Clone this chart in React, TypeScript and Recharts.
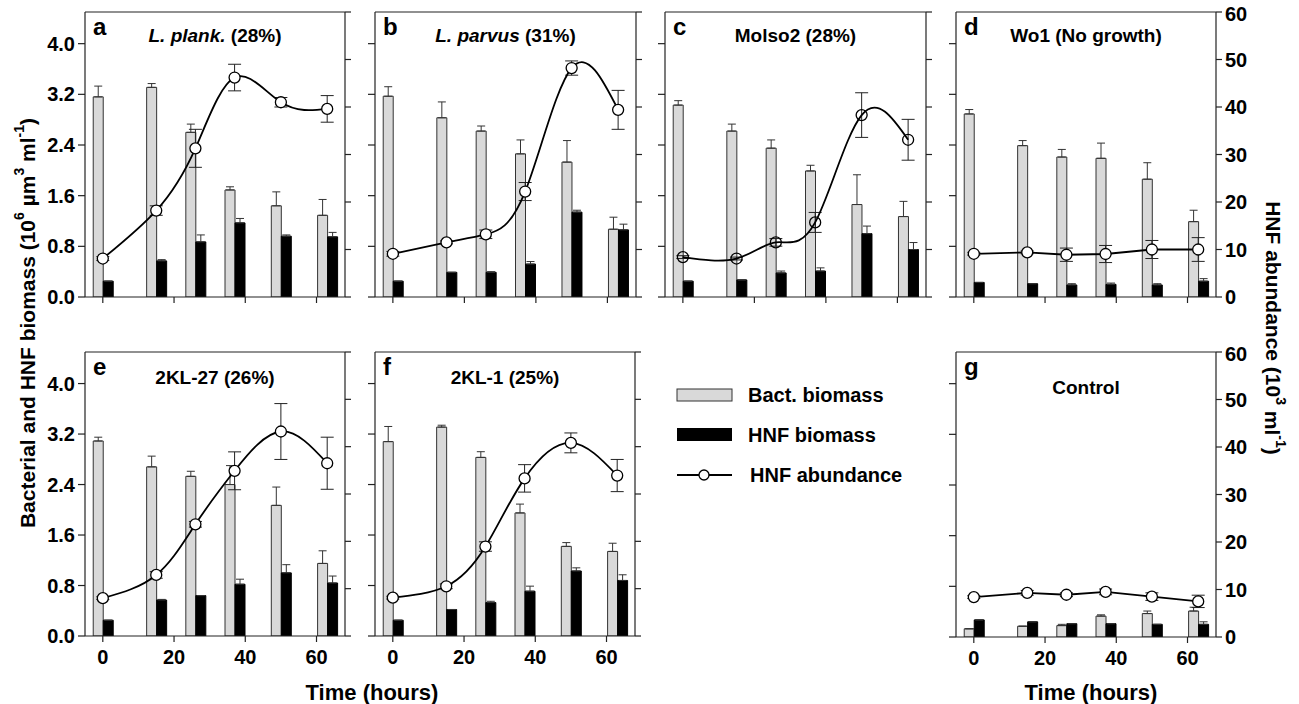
import React from 'react';
import { ComposedChart, Bar, Line, XAxis, YAxis, ErrorBar, ReferenceLine } from 'recharts';

const times = [0, 15, 26, 37, 50, 63];
const xTicks = [0, 20, 40, 60];
const leftTicks = [0, 0.8, 1.6, 2.4, 3.2, 4.0];
const rightTicks = [0, 10, 20, 30, 40, 50, 60];

// a  L. plank.
const bactA = [3.16, 3.31, 2.60, 1.69, 1.44, 1.29];
const bactErrA = [0.17, 0.06, 0.13, 0.05, 0.22, 0.25];
const hnfA = [0.25, 0.57, 0.87, 1.17, 0.96, 0.95];
const hnfErrA = [0, 0.02, 0.11, 0.07, 0.02, 0.07];
const abundA = [8.1, 18.2, 31.3, 46.2, 41.0, 39.6];
const abundErrA = [0.4, 1.0, 4.0, 2.8, 1.0, 2.8];

// b  L. parvus
const bactB = [3.17, 2.83, 2.62, 2.26, 2.13, 1.07];
const bactErrB = [0.15, 0.25, 0.08, 0.22, 0.34, 0.19];
const hnfB = [0.25, 0.39, 0.39, 0.52, 1.34, 1.06];
const hnfErrB = [0, 0, 0.01, 0.04, 0.03, 0.09];
const abundB = [9.1, 11.5, 13.2, 22.2, 48.2, 39.4];
const abundErrB = [0.5, 0.3, 0.9, 1.9, 1.5, 4.1];

// c  Molso2
const bactC = [3.03, 2.62, 2.35, 1.99, 1.46, 1.27];
const bactErrC = [0.07, 0.11, 0.13, 0.09, 0.47, 0.24];
const hnfC = [0.25, 0.27, 0.38, 0.41, 1.0, 0.75];
const hnfErrC = [0, 0, 0.03, 0.05, 0.12, 0.11];
const abundC = [8.4, 8.1, 11.5, 15.7, 38.3, 33.1];
const abundErrC = [0.3, 0.3, 0.8, 2.1, 4.7, 4.3];

// d  Wo1
const bactD = [2.89, 2.39, 2.21, 2.19, 1.86, 1.19];
const bactErrD = [0.07, 0.08, 0.12, 0.24, 0.26, 0.18];
const hnfD = [0.23, 0.21, 0.19, 0.2, 0.19, 0.25];
const hnfErrD = [0, 0, 0.02, 0.02, 0.02, 0.04];
const abundD = [9.1, 9.4, 8.9, 9.05, 10.0, 10.0];
const abundErrD = [0.3, 0.3, 1.4, 1.8, 1.9, 2.5];

// e  2KL-27
const bactE = [3.09, 2.68, 2.53, 2.40, 2.07, 1.15];
const bactErrE = [0.06, 0.17, 0.08, 0.30, 0.29, 0.20];
const hnfE = [0.25, 0.57, 0.64, 0.82, 1.0, 0.84];
const hnfErrE = [0, 0.01, 0, 0.08, 0.13, 0.11];
const abundE = [8.0, 12.9, 23.6, 34.9, 43.2, 36.5];
const abundErrE = [0.3, 0.7, 0.6, 4.0, 5.9, 5.5];

// f  2KL-1
const bactF = [3.08, 3.31, 2.83, 1.95, 1.42, 1.34];
const bactErrF = [0.24, 0.03, 0.09, 0.14, 0.06, 0.13];
const hnfF = [0.25, 0.42, 0.53, 0.71, 1.03, 0.88];
const hnfErrF = [0, 0, 0.02, 0.08, 0.05, 0.09];
const abundF = [8.1, 10.5, 18.9, 33.3, 40.8, 33.9];
const abundErrF = [0.3, 0.5, 1.0, 2.9, 2.1, 3.4];

// g  Control
const bactG = [0.13, 0.17, 0.18, 0.33, 0.37, 0.41];
const bactErrG = [0, 0, 0.02, 0.02, 0.04, 0.06];
const hnfG = [0.27, 0.24, 0.21, 0.21, 0.2, 0.2];
const hnfErrG = [0, 0, 0, 0, 0, 0.04];
const abundG = [8.4, 9.3, 8.9, 9.5, 8.5, 7.5];
const abundErrG = [0.3, 0.5, 0.4, 0.6, 0.8, 1.3];

const FONT = '"Liberation Sans", Arial, Helvetica, sans-serif';
const AX = '#222';

type PanelDef = {
  letter: string;
  title: React.ReactNode;
  x0: number; x1: number; y0: number; y1: number;
  bact: number[]; bactErr: number[]; hnf: number[]; hnfErr: number[];
  abund: number[]; abundErr: number[];
  curve: 'natural' | 'linear';
  dotFill: string;
  showLeft: boolean; showRight: boolean; showX: boolean;
  titleY: number;
};

const panels: PanelDef[] = [
  { letter: 'a', title: <><tspan fontStyle="italic">L. plank.</tspan> (28%)</>, x0: 85, x1: 345, y0: 12, y1: 297,
    bact: bactA, bactErr: bactErrA, hnf: hnfA, hnfErr: hnfErrA, abund: abundA, abundErr: abundErrA,
    curve: 'natural', dotFill: '#fff', showLeft: true, showRight: false, showX: false, titleY: 35 },
  { letter: 'b', title: <><tspan fontStyle="italic">L. parvus</tspan> (31%)</>, x0: 375, x1: 636, y0: 12, y1: 297,
    bact: bactB, bactErr: bactErrB, hnf: hnfB, hnfErr: hnfErrB, abund: abundB, abundErr: abundErrB,
    curve: 'natural', dotFill: '#fff', showLeft: false, showRight: false, showX: false, titleY: 35 },
  { letter: 'c', title: 'Molso2 (28%)', x0: 665, x1: 926, y0: 12, y1: 297,
    bact: bactC, bactErr: bactErrC, hnf: hnfC, hnfErr: hnfErrC, abund: abundC, abundErr: abundErrC,
    curve: 'natural', dotFill: 'none', showLeft: false, showRight: false, showX: false, titleY: 35 },
  { letter: 'd', title: 'Wo1 (No growth)', x0: 956, x1: 1216, y0: 12, y1: 297,
    bact: bactD, bactErr: bactErrD, hnf: hnfD, hnfErr: hnfErrD, abund: abundD, abundErr: abundErrD,
    curve: 'linear', dotFill: '#fff', showLeft: false, showRight: true, showX: false, titleY: 35 },
  { letter: 'e', title: '2KL-27 (26%)', x0: 85, x1: 345, y0: 352, y1: 636,
    bact: bactE, bactErr: bactErrE, hnf: hnfE, hnfErr: hnfErrE, abund: abundE, abundErr: abundErrE,
    curve: 'natural', dotFill: '#fff', showLeft: true, showRight: false, showX: true, titleY: 377 },
  { letter: 'f', title: '2KL-1 (25%)', x0: 375, x1: 635, y0: 352, y1: 636,
    bact: bactF, bactErr: bactErrF, hnf: hnfF, hnfErr: hnfErrF, abund: abundF, abundErr: abundErrF,
    curve: 'natural', dotFill: '#fff', showLeft: false, showRight: false, showX: true, titleY: 377 },
  { letter: 'g', title: 'Control', x0: 956, x1: 1216, y0: 352, y1: 637,
    bact: bactG, bactErr: bactErrG, hnf: hnfG, hnfErr: hnfErrG, abund: abundG, abundErr: abundErrG,
    curve: 'linear', dotFill: '#fff', showLeft: false, showRight: true, showX: true, titleY: 387 },
];

const tickStyle = { fontFamily: FONT, fontWeight: 700, fontSize: 20, fill: '#000' };

function Panel({ p }: { p: PanelDef }) {
  const data = times.map((t, i) => ({
    t,
    bact: p.bact[i],
    bactErr: [0, p.bactErr[i]],
    hnf: p.hnf[i],
    hnfErr: [0, p.hnfErr[i]],
    abund: p.abund[i],
    abundErr: p.abundErr[i],
  }));
  const W = p.x1 - p.x0;
  const H = p.y1 - p.y0;
  const AW = 70, MT = 10, XH = 50;
  return (
    <div style={{ position: 'absolute', left: p.x0 - AW, top: p.y0 - MT }}>
      <ComposedChart width={W + 2 * AW} height={H + MT + XH} data={data}
        margin={{ top: MT, right: 0, bottom: 0, left: 0 }} barGap={0}>
        <XAxis xAxisId="b" dataKey="t" type="number" domain={[-5, 68]} ticks={xTicks} allowDataOverflow
          height={XH} tickSize={6} tickMargin={8} stroke={AX} strokeWidth={1.2}
          tick={tickStyle} tickFormatter={(v: number) => (p.showX ? String(v) : '')} />
        <YAxis yAxisId="l" orientation="left" type="number" domain={[0, 4.5]} ticks={leftTicks} allowDataOverflow
          width={AW} tickSize={7} tickMargin={3} stroke={AX} strokeWidth={1.2}
          tick={tickStyle} tickFormatter={(v: number) => (p.showLeft ? v.toFixed(1) : '')} />
        <YAxis yAxisId="r" orientation="right" type="number" domain={[0, 60]} ticks={rightTicks} allowDataOverflow
          width={AW} tickSize={6} tickMargin={3} stroke={AX} strokeWidth={1.2}
          tick={tickStyle} tickFormatter={(v: number) => (p.showRight ? String(v) : '')} />
        <ReferenceLine xAxisId="b" yAxisId="l" y={4.5} stroke={AX} strokeWidth={1.2} />
        <Bar xAxisId="b" yAxisId="l" dataKey="bact" barSize={10} fill="#d9d9d9" stroke="#333" strokeWidth={1}
          isAnimationActive={false}>
          <ErrorBar dataKey="bactErr" width={4} stroke="#333" strokeWidth={1} direction="y" />
        </Bar>
        <Bar xAxisId="b" yAxisId="l" dataKey="hnf" barSize={10} fill="#000" stroke="#000" strokeWidth={1}
          isAnimationActive={false}>
          <ErrorBar dataKey="hnfErr" width={4} stroke="#333" strokeWidth={1} direction="y" />
        </Bar>
        <Line xAxisId="b" yAxisId="r" dataKey="abund" type={p.curve} stroke="#000" strokeWidth={1.8}
          dot={{ r: 5.5, fill: p.dotFill, stroke: '#000', strokeWidth: 1.3 }} activeDot={false}
          isAnimationActive={false}>
          <ErrorBar dataKey="abundErr" width={6.5} stroke="#222" strokeWidth={1} direction="y" />
        </Line>
      </ComposedChart>
    </div>
  );
}

const txt = { fontFamily: FONT, fontWeight: 700, fill: '#000' } as const;

export default function App() {
  return (
    <div style={{ position: 'absolute', left: 0, top: 0, width: 1299, height: 704, background: '#fff', overflow: 'hidden' }}>
      {panels.map((p) => <Panel key={p.letter} p={p} />)}
      <svg width={1299} height={704} style={{ position: 'absolute', left: 0, top: 0, pointerEvents: 'none' }}>
        {panels.map((p) => (
          <g key={p.letter}>
            <text x={p.x0 + 8} y={p.y0 + 14} fontSize={24} dominantBaseline="central" {...txt}>{p.letter}</text>
            <text x={(p.x0 + p.x1) / 2} y={p.titleY} fontSize={19} textAnchor="middle" dominantBaseline="central" {...txt}>{p.title}</text>
          </g>
        ))}
        <text transform="translate(27,323) rotate(-90)" textAnchor="middle" dominantBaseline="central" fontSize={21} {...txt}>
          Bacterial and HNF biomass (10<tspan dy={-8} fontSize={14}>6</tspan><tspan dy={8}> µm</tspan><tspan dy={-8} fontSize={14}>3</tspan><tspan dy={8}> ml</tspan><tspan dy={-8} fontSize={14}>-1</tspan><tspan dy={8}>)</tspan>
        </text>
        <text transform="translate(1273,328) rotate(90)" textAnchor="middle" dominantBaseline="central" fontSize={21} {...txt}>
          HNF abundance (10<tspan dy={-8} fontSize={14}>3</tspan><tspan dy={8}> ml</tspan><tspan dy={-8} fontSize={14}>-1</tspan><tspan dy={8}>)</tspan>
        </text>
        <text x={372} y={692} textAnchor="middle" dominantBaseline="central" fontSize={22} {...txt}>Time (hours)</text>
        <text x={1091} y={692} textAnchor="middle" dominantBaseline="central" fontSize={22} {...txt}>Time (hours)</text>
        {/* legend */}
        <rect x={677} y={389} width={55} height={12} fill="#d9d9d9" stroke="#333" strokeWidth={1} />
        <text x={748} y={395} dominantBaseline="central" fontSize={20} {...txt}>Bact. biomass</text>
        <rect x={677} y={428} width={55} height={13} fill="#000" />
        <text x={748} y={435} dominantBaseline="central" fontSize={20} {...txt}>HNF biomass</text>
        <line x1={677} x2={732} y1={475} y2={475} stroke="#000" strokeWidth={1.8} />
        <circle cx={704} cy={475} r={5} fill="#fff" stroke="#000" strokeWidth={1.3} />
        <text x={750} y={475} dominantBaseline="central" fontSize={20} {...txt}>HNF abundance</text>
      </svg>
    </div>
  );
}
